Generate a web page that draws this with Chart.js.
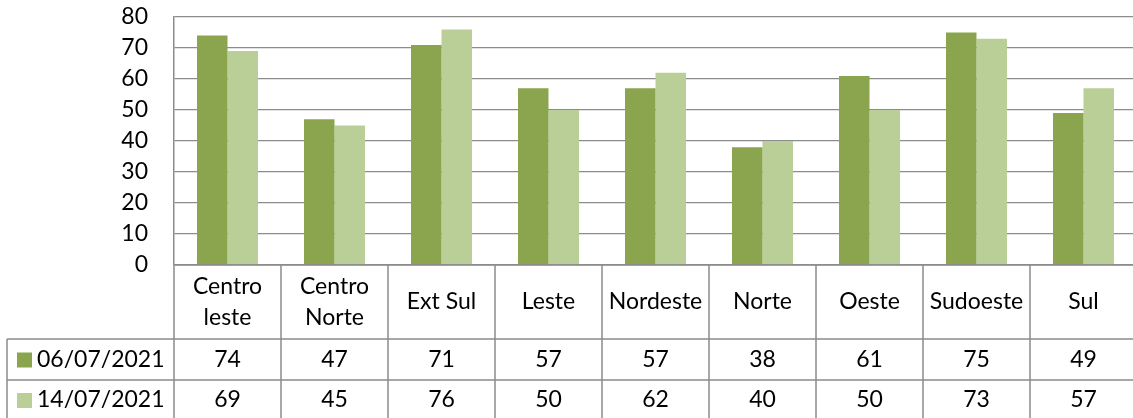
<!DOCTYPE html>
<html lang="pt">
  <head>
    <meta charset="UTF-8" />
    <title>Comparativo por região</title>
    <script src="https://cdn.jsdelivr.net/npm/chart.js"></script>
    <style>
      html, body { margin: 0; padding: 0; background: #fff; overflow: hidden; }
      .wrap { position: relative; width: 1140px; height: 418px; }
    </style>
  </head>
  <body>
    <div class="wrap">
      <canvas id="regionChart"></canvas>
    </div>
    <script>
      // data
      const regions = [["Centro", "leste"], ["Centro", "Norte"], "Ext Sul", "Leste", "Nordeste", "Norte", "Oeste", "Sudoeste", "Sul"];
      const seriesNames = ["06/07/2021", "14/07/2021"];
      const values0607 = [74, 47, 71, 57, 57, 38, 61, 75, 49];
      const values1407 = [69, 45, 76, 50, 62, 40, 50, 73, 57];
      const yTicks = [0, 10, 20, 30, 40, 50, 60, 70, 80];

      const colors = ["#8BA54F", "#B9CF97"];
      const lineColor = "#8C8C8C";
      const fontFamily = "Lato, 'Open Sans', sans-serif";

      // draws the Excel style data table under the plot
      const dataTable = {
        id: "dataTable",
        afterDraw(chart) {
          const ctx = chart.ctx;
          const x = chart.scales.x;
          const area = chart.chartArea;
          const n = chart.data.labels.length;
          const colW = x.width / n;
          const top = area.bottom;
          const headBottom = 339;
          const rowBottom = 380;
          const bottom = chart.height + 2;
          const tableLeft = 7;

          ctx.save();
          ctx.strokeStyle = lineColor;
          ctx.lineWidth = 1.5;
          ctx.beginPath();
          // horizontal lines
          ctx.moveTo(area.left, top); ctx.lineTo(area.right, top);
          ctx.moveTo(tableLeft, headBottom); ctx.lineTo(area.right, headBottom);
          ctx.moveTo(tableLeft, rowBottom); ctx.lineTo(area.right, rowBottom);
          // vertical lines
          ctx.moveTo(tableLeft, headBottom); ctx.lineTo(tableLeft, bottom);
          for (let i = 0; i <= n; i++) {
            const px = Math.round(x.getPixelForValue(0) - colW / 2 + i * colW);
            ctx.moveTo(px, top); ctx.lineTo(px, bottom);
          }
          ctx.stroke();

          ctx.fillStyle = "#000";
          ctx.font = "23px " + fontFamily;
          ctx.textAlign = "center";
          ctx.textBaseline = "middle";

          // header (category names)
          chart.data.labels.forEach((label, i) => {
            const cx = x.getPixelForValue(i);
            const lines = Array.isArray(label) ? label : [label];
            const lh = 31;
            const y0 = (top + headBottom) / 2 - (lines.length - 1) * lh / 2;
            lines.forEach((t, k) => ctx.fillText(t, cx, y0 + k * lh));
          });

          // value rows with legend keys
          const rowMid = [(headBottom + rowBottom) / 2, (rowBottom + 420) / 2];
          chart.data.datasets.forEach((ds, r) => {
            const cy = rowMid[r];
            ctx.fillStyle = ds.backgroundColor;
            ctx.fillRect(17, cy - 7, 15, 15);
            ctx.fillStyle = "#000";
            ctx.textAlign = "left";
            ctx.fillText(ds.label, 37, cy);
            ctx.textAlign = "center";
            ds.data.forEach((v, i) => {
              ctx.fillText(String(v), x.getPixelForValue(i), cy);
            });
          });
          ctx.restore();
        }
      };

      const ctx = document.getElementById("regionChart").getContext("2d");
      new Chart(ctx, {
        type: "bar",
        data: {
          labels: regions,
          datasets: [
            { label: seriesNames[0], data: values0607, backgroundColor: colors[0] },
            { label: seriesNames[1], data: values1407, backgroundColor: colors[1] }
          ]
        },
        options: {
          responsive: true,
          maintainAspectRatio: false,
          animation: false,
          categoryPercentage: 0.57,
          barPercentage: 1.0,
          layout: { padding: { top: 17, right: 3, bottom: 153, left: 0 } },
          plugins: {
            legend: { display: false },
            tooltip: { enabled: false }
          },
          scales: {
            x: { display: false },
            y: {
              min: 0,
              max: 80,
              afterFit(scale) {
                scale.width = 174;
                scale.paddingTop = 0;
                scale.paddingBottom = 0;
              },
              afterBuildTicks(scale) { scale.ticks = yTicks.map(v => ({ value: v })); },
              grid: { color: lineColor, lineWidth: 1.3, drawTicks: false },
              border: { color: lineColor, width: 1.5 },
              ticks: {
                color: "#000",
                padding: 26,
                font: { family: fontFamily, size: 23 }
              }
            }
          }
        },
        plugins: [dataTable]
      });
    </script>
  </body>
</html>
